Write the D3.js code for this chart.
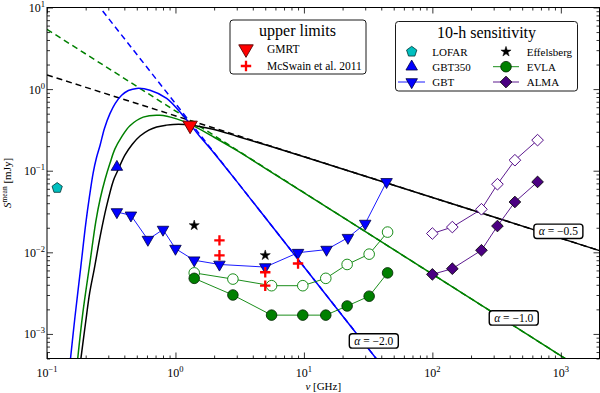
<!DOCTYPE html>
<html><head><meta charset="utf-8">
<script src="https://cdn.jsdelivr.net/npm/d3@7"></script>
<style>
body{margin:0;background:#fff}
svg{display:block}
text{font-family:"Liberation Serif","DejaVu Serif",serif;fill:#000}
</style>
</head><body>
<svg id="c" width="600" height="393"></svg>
<script>
// ---------------- data ----------------
const xTickExp = [-1, 0, 1, 2, 3];
const yTickExp = [-3, -2, -1, 0, 1];

// model spectra (turnover curves)
const nuBlue = [0.152,0.165,0.183,0.200,0.214,0.229,0.243,0.259,0.28,0.309,0.34,0.381,0.43,0.50,0.634,0.854,1.15,1.5,2,3,10,50];
const sBlue  = [4.8e-4,1.6e-3,0.0065,0.022,0.048,0.095,0.145,0.205,0.33,0.50,0.67,0.84,0.96,1.02,0.97,0.77,0.47,0.28,0.164,0.074,0.00666,2.66e-4];
const nuGreen = [0.173,0.19,0.216,0.24,0.26,0.283,0.31,0.338,0.38,0.442,0.561,0.757,1.02,1.30,2,3,5,20,2000];
const sGreen  = [4.8e-4,1.8e-3,0.0075,0.024,0.046,0.078,0.125,0.185,0.258,0.356,0.454,0.478,0.432,0.372,0.257,0.177,0.107,0.027,2.7e-4];
const nuBlack = [0.183,0.2,0.215,0.233,0.26,0.29,0.328,0.352,0.404,0.46,0.53,0.62,0.714,0.85,0.962,1.30,2,3,5,10,100,2000];
const sBlack  = [4.8e-4,1.4e-3,3.2e-3,0.0062,0.016,0.036,0.075,0.097,0.155,0.21,0.266,0.315,0.344,0.362,0.369,0.364,0.32,0.265,0.208,0.148,0.047,0.0105];

// pure power laws (end points)
const nuPL = [0.1, 2000];
const sPLblue  = [66.6, 1.67e-7];
const sPLgreen = [5.4, 2.7e-4];
const sPLblack = [1.49, 0.0105];
const alphaLabels = ["\u22122.0", "\u22121.0", "\u22120.5"];
const alphaNu = [35, 430, 957];
const alphaS  = [8.2e-4, 1.57e-3, 0.0181];

// sensitivities
const nuLOFAR = [0.12];   const sLOFAR = [0.0615];
const nuGBT350 = [0.35];  const sGBT350 = [0.111];
const nuGBT = [0.35,0.45,0.61,0.80,1.0,1.4,2.2,5.0,9.0,15,22,30,44];
const sGBT  = [0.0312,0.0284,0.0143,0.0190,0.0111,0.0080,0.0071,0.0066,0.0099,0.0108,0.0151,0.0225,0.073];
const nuEff = [1.4, 5.0];  const sEff = [0.0214, 0.0092];
const nuEVLA = [1.4,2.8,5.6,9.8,14.8,21.7,32.2,44.8];
const sEVLAopen   = [0.0056,0.0047,0.0039,0.0039,0.0048,0.0071,0.0095,0.0177];
const sEVLAfilled = [0.0048,0.0030,0.0017,0.0017,0.0017,0.0022,0.0029,0.0056];
const nuALMA = [100,143,241,321,439,659];
const sALMAopen   = [0.0170,0.0204,0.0337,0.0683,0.1345,0.237];
const sALMAfilled = [0.00537,0.0063,0.0106,0.021,0.0414,0.0729];

// upper limits
const nuGMRT = [1.3];  const sGMRT = [0.36];
const nuMcS = [2.2,2.2,5,5,9];
const sMcS  = [0.0140,0.0092,0.0057,0.0039,0.0073];

const legend1 = ["GMRT", "McSwain et al. 2011"];
const legend2a = ["LOFAR", "GBT350", "GBT"];
const legend2b = ["Effelsberg", "EVLA", "ALMA"];

// ---------------- chart ----------------
const svg = d3.select("#c");
const L = 47, R = 599.5, T = 7.5, B = 358.5;
const x = d3.scaleLog().domain([0.1, 2000]).range([L, R]);
const y = d3.scaleLog().domain([5e-4, 10]).range([B, T]);

const BLUE = "#0000ff", GREEN = "#008000", PURPLE = "#4b0082", CYAN = "#00bfbf", RED = "#ff0000";

svg.append("defs").append("clipPath").attr("id","clip")
  .append("rect").attr("x",L).attr("y",T).attr("width",R-L).attr("height",B-T);

const zip = (a,b) => a.map((v,i)=>[v,b[i]]);
const line = d3.line().x(d=>x(d[0])).y(d=>y(d[1]));
const smooth = d3.line().x(d=>x(d[0])).y(d=>y(d[1])).curve(d3.curveCatmullRom.alpha(0.5));

const plot = svg.append("g").attr("clip-path","url(#clip)");

// power laws (dashed)
[[sPLblack,"#000"],[sPLgreen,GREEN],[sPLblue,BLUE]].forEach(([s,c])=>{
  plot.append("path").attr("d", line(zip(nuPL,s))).attr("fill","none")
    .attr("stroke",c).attr("stroke-width",1.5).attr("stroke-dasharray","6,4");
});
// model curves
[[nuBlack,sBlack,"#000"],[nuGreen,sGreen,GREEN],[nuBlue,sBlue,BLUE]].forEach(([n,s,c])=>{
  plot.append("path").attr("d", smooth(zip(n,s))).attr("fill","none")
    .attr("stroke",c).attr("stroke-width",1.5);
});

// connecting lines
function conn(n,s,c){
  plot.append("path").attr("d", line(zip(n,s))).attr("fill","none").attr("stroke",c).attr("stroke-width",0.9);
}
conn(nuGBT,sGBT,BLUE);
conn(nuEVLA,sEVLAopen,GREEN);
conn(nuEVLA,sEVLAfilled,GREEN);
conn(nuALMA,sALMAopen,PURPLE);
conn(nuALMA,sALMAfilled,PURPLE);

// marker factories
function triPath(w){ const yy = w/(2*Math.sqrt(3)); return d3.symbol(d3.symbolTriangle, yy*yy*3*Math.sqrt(3))(); }
function pentPath(r){
  const p = d3.path();
  for(let i=0;i<5;i++){ const a = -Math.PI/2 + i*2*Math.PI/5; const px=r*Math.cos(a), py=r*Math.sin(a); i?p.lineTo(px,py):p.moveTo(px,py);} p.closePath(); return p.toString();
}
const markers = {
  triDown:(g,opt)=>g.append("path").attr("d",triPath(opt.w||11.5)).attr("transform","rotate(180)"),
  triUp:(g,opt)=>g.append("path").attr("d",triPath(opt.w||11.5)),
  pent:(g)=>g.append("path").attr("d",pentPath(5.4)),
  star:(g)=>g.append("path").attr("d",d3.symbol(d3.symbolStar,32)()),
  circ:(g)=>g.append("circle").attr("r",5.3),
  diam:(g)=>g.append("path").attr("d",d3.symbol(d3.symbolSquare,68)()).attr("transform","rotate(45)"),
  plus:(g)=>{ g.append("path").attr("d","M-5.2,0H5.2M0,-5.2V5.2"); return g.select("path"); }
};
function drawMark(parent, px, py, type, fill, stroke, sw, opt={}){
  const g = parent.append("g").attr("transform",`translate(${px},${py})`);
  const el = markers[type](g,opt);
  el.attr("fill",fill).attr("stroke",stroke).attr("stroke-width",sw);
  return g;
}
function scatter(n,s,type,fill,stroke,sw,opt){
  n.forEach((v,i)=>drawMark(svg, x(v), y(s[i]), type, fill, stroke, sw, opt));
}
scatter(nuLOFAR,sLOFAR,"pent",CYAN,"#003333",0.8);
scatter(nuGBT350,sGBT350,"triUp",BLUE,"#000044",0.8,{w:11.5});
scatter(nuGBT,sGBT,"triDown",BLUE,"#000044",0.8,{w:11.5});
scatter(nuEff,sEff,"star","#000","#000",0.5);
scatter(nuEVLA,sEVLAopen,"circ","#fff",GREEN,0.9);
scatter(nuEVLA,sEVLAfilled,"circ",GREEN,"#002200",0.8);
scatter(nuALMA,sALMAopen,"diam","#fff",PURPLE,0.9);
scatter(nuALMA,sALMAfilled,"diam",PURPLE,"#000",0.8);
scatter(nuGMRT,sGMRT,"triDown",RED,"#550000",0.9,{w:14.5});
scatter(nuMcS,sMcS,"plus","none",RED,2.3);

// alpha labels
alphaLabels.forEach((lab,i)=>{
  const cx = x(alphaNu[i]), cy = y(alphaS[i]);
  const g = svg.append("g").attr("transform",`translate(${cx},${cy})`);
  g.append("rect").attr("x",-24.5).attr("y",-7.2).attr("width",49).attr("height",14.4).attr("rx",3)
    .attr("fill","#fff").attr("stroke","#000").attr("stroke-width",1.4);
  const t = g.append("text").attr("text-anchor","middle").attr("y",4).attr("font-size",11.5);
  t.append("tspan").attr("font-style","italic").text("\u03b1");
  t.append("tspan").text(" = " + lab);
});

// axes
const isMajor = v => Math.abs(Math.log10(v) - Math.round(Math.log10(v))) < 1e-6;
const xMaj = xTickExp.map(e=>Math.pow(10,e));
const yMaj = yTickExp.map(e=>Math.pow(10,e));
const xMin = x.ticks().filter(v=>!isMajor(v));
const yMin = y.ticks().filter(v=>!isMajor(v));
function ax(gen, pos, vals, size){
  const g = svg.append("g").attr("transform",pos)
    .call(gen.tickValues(vals).tickSizeInner(-size).tickSizeOuter(0).tickFormat(""));
  g.select(".domain").remove();
  g.selectAll("line").attr("stroke","#000").attr("stroke-width",0.8);
}
[[d3.axisBottom(x),`translate(0,${B})`],[d3.axisTop(x),`translate(0,${T})`]].forEach(([gen,pos])=>{
  ax(gen,pos,xMaj,6); ax(gen,pos,xMin,3); });
[[d3.axisLeft(y),`translate(${L},0)`],[d3.axisRight(y),`translate(${R},0)`]].forEach(([gen,pos])=>{
  ax(gen,pos,yMaj,6); ax(gen,pos,yMin,3); });

svg.append("rect").attr("x",L).attr("y",T).attr("width",R-L).attr("height",B-T)
  .attr("fill","none").attr("stroke","#000").attr("stroke-width",1);

// tick labels
const minus = e => (e<0?"\u2212":"") + Math.abs(e);
xTickExp.forEach(e=>{
  const t = svg.append("text").attr("x",x(Math.pow(10,e))).attr("y",376.5).attr("text-anchor","middle").attr("font-size",12);
  t.append("tspan").text("10");
  t.append("tspan").attr("dy",-5).attr("font-size",8.5).text(minus(e));
});
yTickExp.forEach(e=>{
  const t = svg.append("text").attr("x",45).attr("y",y(Math.pow(10,e))+4.5).attr("text-anchor","end").attr("font-size",12);
  t.append("tspan").text("10");
  t.append("tspan").attr("dy",-5).attr("font-size",8.5).text(minus(e));
});

// axis titles
const xl = svg.append("text").attr("x",(L+R)/2).attr("y",390).attr("text-anchor","middle").attr("font-size",11);
xl.append("tspan").attr("font-style","italic").text("\u03bd");
xl.append("tspan").text(" [GHz]");
const yl = svg.append("text").attr("transform",`translate(11,${(T+B)/2}) rotate(-90)`).attr("text-anchor","middle").attr("font-size",11);
yl.append("tspan").attr("font-style","italic").text("S");
yl.append("tspan").attr("dy",-4).attr("font-size",7.5).text("mean");
yl.append("tspan").attr("dy",4).text(" [mJy]");

// legend 1
const lg1 = svg.append("g");
lg1.append("rect").attr("x",230).attr("y",20).attr("width",136).attr("height",54).attr("rx",3)
  .attr("fill","#fff").attr("stroke","#000").attr("stroke-width",0.9);
lg1.append("text").attr("x",297.5).attr("y",35.5).attr("text-anchor","middle").attr("font-size",16).text("upper limits");
drawMark(lg1,246,49,"triDown",RED,"#550000",0.9,{w:14.5});
drawMark(lg1,246,66,"plus","none",RED,2.3);
legend1.forEach((t,i)=>lg1.append("text").attr("x",267).attr("y",[49,66][i]+4).attr("font-size",11.5).text(t));

// legend 2
const lg2 = svg.append("g");
lg2.append("rect").attr("x",395.5).attr("y",21.5).attr("width",182).attr("height",69.5).attr("rx",3)
  .attr("fill","#fff").attr("stroke","#000").attr("stroke-width",0.9);
lg2.append("text").attr("x",486.5).attr("y",37.5).attr("text-anchor","middle").attr("font-size",16).text("10-h sensitivity");
const rowsY = [51.7, 66.7, 82];
lg2.append("line").attr("x1",398).attr("x2",425).attr("y1",rowsY[2]).attr("y2",rowsY[2]).attr("stroke",BLUE).attr("stroke-width",0.9);
lg2.append("line").attr("x1",493).attr("x2",519).attr("y1",rowsY[1]).attr("y2",rowsY[1]).attr("stroke",GREEN).attr("stroke-width",0.9);
lg2.append("line").attr("x1",493).attr("x2",519).attr("y1",rowsY[2]).attr("y2",rowsY[2]).attr("stroke",PURPLE).attr("stroke-width",0.9);
drawMark(lg2,411.7,rowsY[0],"pent",CYAN,"#003333",0.8);
drawMark(lg2,411.7,rowsY[1],"triUp",BLUE,"#000044",0.8,{w:11.5});
drawMark(lg2,411.7,rowsY[2],"triDown",BLUE,"#000044",0.8,{w:11.5});
drawMark(lg2,506,rowsY[0],"star","#000","#000",0.5);
drawMark(lg2,506,rowsY[1],"circ",GREEN,"#002200",0.8);
drawMark(lg2,506,rowsY[2],"diam",PURPLE,"#000",0.8);
legend2a.forEach((t,i)=>lg2.append("text").attr("x",432.3).attr("y",rowsY[i]+4).attr("font-size",11).text(t));
legend2b.forEach((t,i)=>lg2.append("text").attr("x",526.7).attr("y",rowsY[i]+4).attr("font-size",11).text(t));
</script>
</body></html>
